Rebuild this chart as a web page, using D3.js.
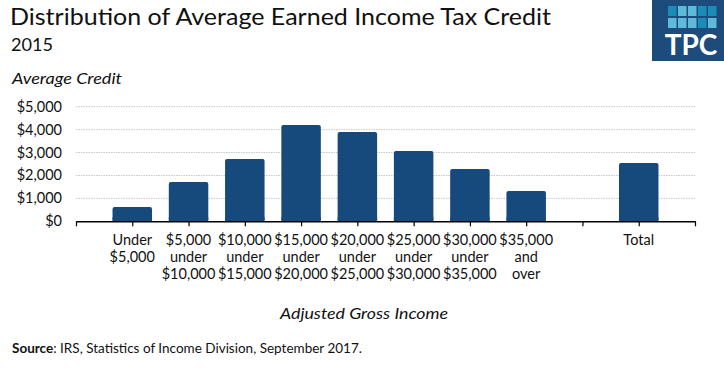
<!DOCTYPE html>
<html>
<head>
<meta charset="utf-8">
<script src="https://cdn.jsdelivr.net/npm/d3@7"></script>
<style>
  body { margin: 0; background: #fff; }
  text { font-family: Lato, "Open Sans", sans-serif; fill: #111; }
</style>
</head>
<body>
<div id="chart"></div>
<script>
// categories and values
const categories = [
    ["Under", "$5,000"],
    ["$5,000", "under", "$10,000"],
    ["$10,000", "under", "$15,000"],
    ["$15,000", "under", "$20,000"],
    ["$20,000", "under", "$25,000"],
    ["$25,000", "under", "$30,000"],
    ["$30,000", "under", "$35,000"],
    ["$35,000", "and", "over"],
    ["Total"]
];
const keys = ["u5", "5to10", "10to15", "15to20", "20to25", "25to30", "30to35", "35plus", "total"];
const values = [624, 1715, 2718, 4202, 3896, 3067, 2282, 1322, 2544];
const yTicks = [0, 1000, 2000, 3000, 4000, 5000];

const W = 724, H = 370;
const barColor = "#174A7C";

const svg = d3.select("#chart")
    .append("svg")
    .attr("width", W)
    .attr("height", H);

// titles
svg.append("text")
    .attr("x", 10).attr("y", 24.5)
    .attr("textLength", 541).attr("lengthAdjust", "spacingAndGlyphs")
    .style("font-size", "24px").style("font-weight", 400)
    .text("Distribution of Average Earned Income Tax Credit");
svg.append("text")
    .attr("x", 11).attr("y", 51)
    .attr("textLength", 42).attr("lengthAdjust", "spacingAndGlyphs")
    .style("font-size", "18px").style("font-weight", 400)
    .text("2015");
svg.append("text")
    .attr("x", 12).attr("y", 84)
    .attr("textLength", 110).attr("lengthAdjust", "spacingAndGlyphs")
    .style("font-size", "16px").style("font-style", "italic").style("font-weight", 400)
    .text("Average Credit");

// logo
const logo = svg.append("g").attr("transform", "translate(652,0)");
logo.append("rect").attr("width", 72).attr("height", 61).attr("fill", "#1D4C7C");
const logoCols = [["#1A8DB6", "#5DBAD8", "#5DBAD8", "#1A8DB6", "#1A8DB6"],
                  ["#5DBAD8", "#5DBAD8", "#5DBAD8", "#1A8DB6", "#5DBAD8"]];
logoCols.forEach(function(row, r) {
    row.forEach(function(c, i) {
        logo.append("rect")
            .attr("x", 16 + i * 10).attr("y", 6 + r * 12)
            .attr("width", 8.5).attr("height", 10)
            .attr("fill", c);
    });
});
logo.append("text")
    .attr("x", 39).attr("y", 55)
    .attr("text-anchor", "middle")
    .style("font-size", "28px").style("font-weight", 700)
    .style("fill", "#fff")
    .text("TPC");

// scales: point scale with padding slots at start, gap before total, and end
const domain = ["_start"].concat(keys.slice(0, 8), ["_gap", "total", "_end"]);
const x = d3.scalePoint().domain(domain).range([76, 695]);
const y = d3.scaleLinear().domain([0, 5000]).range([221.3, 106.7]);

// gridlines
svg.append("g")
    .selectAll("line")
    .data(yTicks.slice(1))
    .enter()
    .append("line")
    .attr("x1", 76).attr("x2", 695)
    .attr("y1", function(d) { return y(d); })
    .attr("y2", function(d) { return y(d); })
    .attr("stroke", "#c8c8c8")
    .attr("stroke-width", 1)
    .attr("stroke-dasharray", "1.5,1");

// y axis labels
svg.append("g")
    .selectAll("text")
    .data(yTicks)
    .enter()
    .append("text")
    .attr("x", 62)
    .attr("y", function(d) { return y(d) + 5; })
    .attr("text-anchor", "end")
    .style("font-size", "14.5px")
    .text(function(d) { return "$" + d3.format(",")(d); });

// bars
const bw = 39.5;
svg.append("g")
    .selectAll("rect")
    .data(values)
    .enter()
    .append("rect")
    .attr("x", function(d, i) { return x(keys[i]) - bw / 2; })
    .attr("y", function(d) { return y(d); })
    .attr("width", bw)
    .attr("height", function(d) { return y(0) - y(d); })
    .attr("rx", 2)
    .attr("fill", barColor);
// square off bottom corners
svg.append("g")
    .selectAll("rect")
    .data(values)
    .enter()
    .append("rect")
    .attr("x", function(d, i) { return x(keys[i]) - bw / 2; })
    .attr("y", y(0) - 4)
    .attr("width", bw)
    .attr("height", 4)
    .attr("fill", barColor);

// x axis
const xAxis = svg.append("g")
    .attr("transform", "translate(0," + y(0) + ")")
    .call(d3.axisBottom(x).tickSize(5).tickSizeOuter(0).tickFormat(""));
xAxis.select(".domain").attr("stroke", "#000").attr("stroke-width", 1.5);
xAxis.selectAll(".tick line").attr("stroke", "#000").attr("stroke-width", 1.2);

// multi-line category labels
categories.forEach(function(lines, i) {
    const t = svg.append("text")
        .attr("text-anchor", "middle")
        .attr("x", x(keys[i]))
        .attr("y", 245)
        .style("font-size", "14.5px");
    lines.forEach(function(l, j) {
        t.append("tspan")
            .attr("x", x(keys[i]))
            .attr("dy", j === 0 ? 0 : 17)
            .text(l);
    });
});

// x axis title
svg.append("text")
    .attr("x", 280).attr("y", 319)
    .attr("textLength", 168).attr("lengthAdjust", "spacingAndGlyphs")
    .style("font-size", "16px").style("font-style", "italic").style("font-weight", 400)
    .text("Adjusted Gross Income");

// source
const src = svg.append("text")
    .attr("x", 12).attr("y", 353)
    .attr("textLength", 350).attr("lengthAdjust", "spacingAndGlyphs")
    .style("font-size", "13px");
src.append("tspan").style("font-weight", 700).text("Source");
src.append("tspan").text(": IRS, Statistics of Income  Division, September  2017.");
</script>
</body>
</html>
